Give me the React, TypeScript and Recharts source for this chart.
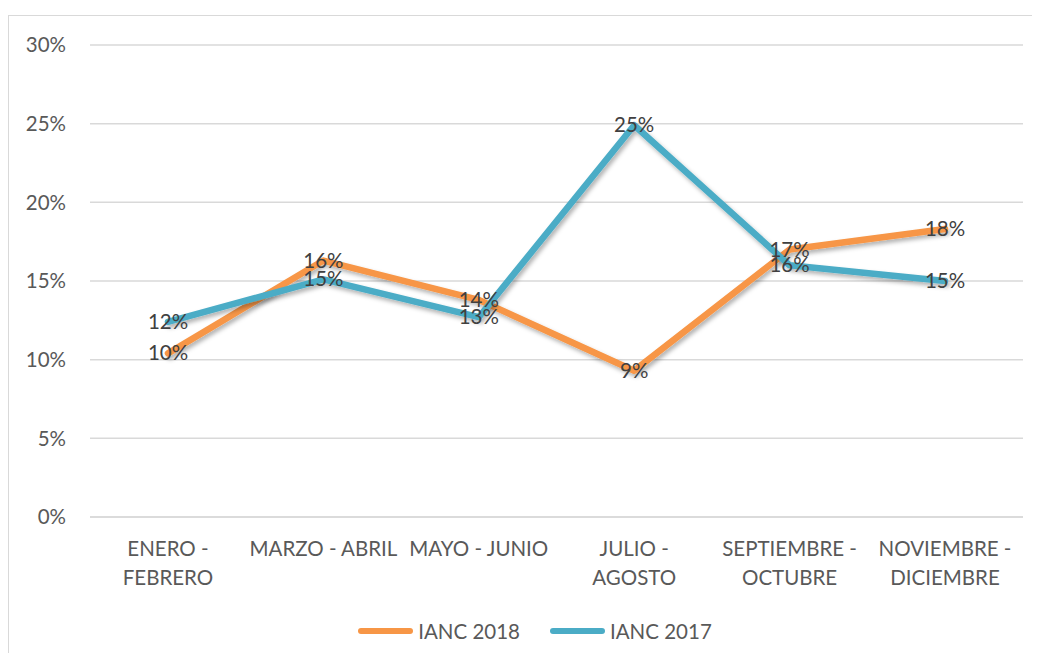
import { LineChart, Line, XAxis, YAxis, CartesianGrid, Legend, LabelList } from "recharts";

const categories = [
  "ENERO - FEBRERO",
  "MARZO - ABRIL",
  "MAYO - JUNIO",
  "JULIO - AGOSTO",
  "SEPTIEMBRE - OCTUBRE",
  "NOVIEMBRE - DICIEMBRE",
];
const ianc2018 = [10.4, 16.3, 13.8, 9.3, 17.0, 18.3];
const ianc2017 = [12.4, 15.1, 12.7, 24.9, 16.0, 15.0];
const yTicks = [0, 5, 10, 15, 20, 25, 30];

const data = categories.map((name, i) => ({
  name,
  ianc2018: ianc2018[i],
  ianc2017: ianc2017[i],
}));

const series = [
  { key: "ianc2018", name: "IANC 2018", color: "#F79646" },
  { key: "ianc2017", name: "IANC 2017", color: "#4BACC6" },
];

const font = "Lato, 'Open Sans', sans-serif";
const fs = 20.5;

// wrap long category names after the dash, like the spreadsheet does
const CategoryTick = (props: any) => {
  const { x, y, payload } = props;
  const label: string = payload.value;
  const cut = label.indexOf(" - ");
  const lines = label.length > 13 ? [label.slice(0, cut + 2), label.slice(cut + 3)] : [label];
  return (
    <text x={x} y={y} textAnchor="middle" fill="#595959" fontSize={fs} fontFamily={font}>
      {lines.map((l, i) => (
        <tspan key={i} x={x} dy={i === 0 ? 39 : 29}>
          {l}
        </tspan>
      ))}
    </text>
  );
};

const PointLabel = (props: any) => {
  const { x, y, value } = props;
  return (
    <text x={x} y={y + 7} textAnchor="middle" fill="#404040" fontSize={fs} fontFamily={font}>
      {Math.round(value)}%
    </text>
  );
};

const renderLegend = () => (
  <div
    style={{
      display: "flex",
      justifyContent: "center",
      alignItems: "center",
      height: 30,
      paddingLeft: 38,
      gap: 30,
      fontFamily: font,
      fontSize: fs,
      color: "#595959",
    }}
  >
    {series.map((s) => (
      <div key={s.key} style={{ display: "flex", alignItems: "center" }}>
        <span style={{ width: 55, height: 6, borderRadius: 3, background: s.color, marginRight: 5 }} />
        {s.name}
      </div>
    ))}
  </div>
);

export default function App() {
  return (
    <div
      style={{
        marginTop: 7,
        width: 1032,
        height: 638,
        boxSizing: "border-box",
        borderLeft: "1px solid #d9d9d9",
        borderTop: "1px solid #d9d9d9",
        background: "#fff",
      }}
    >
      <LineChart width={1031} height={637} data={data} margin={{ top: 29, right: 17, bottom: 7, left: 0 }}>
        <defs>
          <filter id="shadow" x="-10%" y="-10%" width="120%" height="130%">
            <feDropShadow dx="2" dy="3" stdDeviation="2" floodColor="#000" floodOpacity="0.3" />
          </filter>
        </defs>
        <CartesianGrid vertical={false} stroke="#d9d9d9" strokeWidth={1.5} />
        <XAxis
          dataKey="name"
          height={99}
          interval={0}
          padding={{ left: 78, right: 78 }}
          tickLine={false}
          tickSize={0}
          tickMargin={0}
          axisLine={{ stroke: "#d9d9d9", strokeWidth: 1.5 }}
          tick={<CategoryTick />}
        />
        <YAxis
          width={81}
          domain={[0, 30]}
          ticks={yTicks}
          axisLine={false}
          tickLine={false}
          tickSize={0}
          tickMargin={24}
          tickFormatter={(v: number) => `${v}%`}
          tick={{ fill: "#595959", fontSize: fs, fontFamily: font }}
        />
        <Legend verticalAlign="bottom" height={30} content={renderLegend} />
        {series.map((s) => (
          <Line
            key={s.key}
            type="linear"
            dataKey={s.key}
            name={s.name}
            stroke={s.color}
            strokeWidth={6.5}
            strokeLinecap="round"
            strokeLinejoin="round"
            dot={false}
            filter="url(#shadow)"
            isAnimationActive={false}
          >
            <LabelList dataKey={s.key} content={<PointLabel />} />
          </Line>
        ))}
      </LineChart>
    </div>
  );
}
